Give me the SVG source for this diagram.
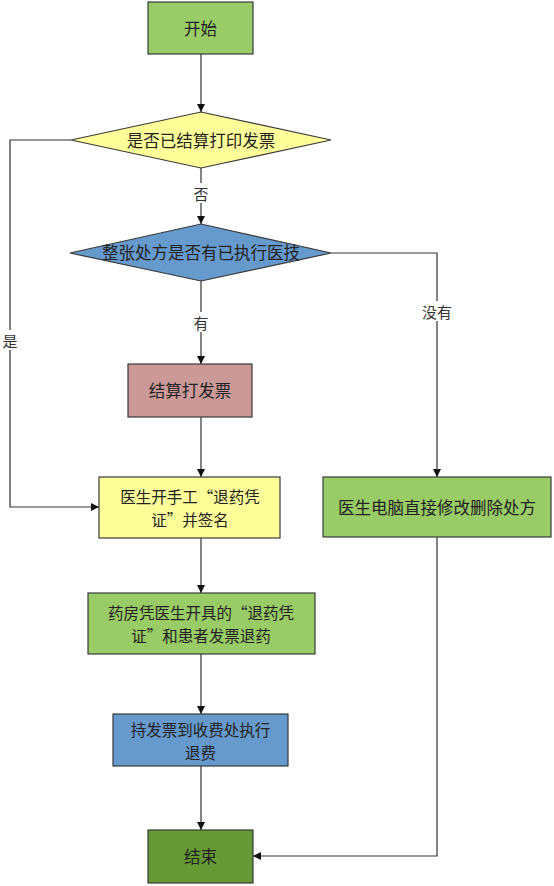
<svg xmlns="http://www.w3.org/2000/svg" width="554" height="886" viewBox="0 0 554 886">
<defs>
<style>
.box{stroke:#3a3a3a;stroke-width:1.2}
.t{font-family:"Noto Sans CJK SC","Liberation Sans",sans-serif;font-size:16.5px;fill:#222;text-anchor:middle;dominant-baseline:central}
.t2{font-family:"Noto Sans CJK SC","Liberation Sans",sans-serif;font-size:15.5px;fill:#222;text-anchor:middle;dominant-baseline:central}
.lbl{font-family:"Noto Sans CJK SC","Liberation Sans",sans-serif;font-size:15px;fill:#333;text-anchor:middle;dominant-baseline:central}
.c{fill:none;stroke:#333;stroke-width:1.2}
</style>
<marker id="ah" viewBox="0 0 10 10" refX="10" refY="5" markerWidth="8" markerHeight="8" markerUnits="userSpaceOnUse" orient="auto">
<path d="M0,0 L10,5 L0,10 z" fill="#111"/>
</marker>
</defs>
<rect width="554" height="886" fill="#fff"/>
<g id="connectors">
<path class="c" d="M201,54 V112" marker-end="url(#ah)"/>
<path class="c" d="M201,168 V224" marker-end="url(#ah)"/>
<path class="c" d="M201,281 V364" marker-end="url(#ah)"/>
<path class="c" d="M201,417 V477" marker-end="url(#ah)"/>
<path class="c" d="M71,140 H10 V507 H99" marker-end="url(#ah)"/>
<path class="c" d="M331,253 H437 V477" marker-end="url(#ah)"/>
<path class="c" d="M201,538 V593" marker-end="url(#ah)"/>
<path class="c" d="M201,654 V714" marker-end="url(#ah)"/>
<path class="c" d="M201,766 V830" marker-end="url(#ah)"/>
<path class="c" d="M437,537 V856 H253" marker-end="url(#ah)"/>
<rect x="191" y="183" width="20" height="20" fill="#fff"/>
<text class="lbl" x="201" y="193">否</text>
<rect x="191" y="312" width="20" height="20" fill="#fff"/>
<text class="lbl" x="201" y="322">有</text>
<rect x="1" y="330" width="18" height="20" fill="#fff"/>
<text class="lbl" x="10" y="340">是</text>
<rect x="420" y="301" width="34" height="20" fill="#fff"/>
<text class="lbl" x="437" y="311">没有</text>
</g>
<g id="start">
<rect class="box" x="148" y="2" width="105" height="52" fill="#99CC66"/>
<text class="t" x="200.5" y="28">开始</text>
</g>
<g id="d1">
<polygon class="box" points="201,112 331,140 201,168 71,140" fill="#FFFF99"/>
<text class="t" x="201" y="140">是否已结算打印发票</text>
</g>
<g id="d2">
<polygon class="box" points="201,224 331,253 201,281 70,253" fill="#6699CC"/>
<text class="t" x="201" y="252">整张处方是否有已执行医技</text>
</g>
<g id="settle">
<rect class="box" x="128" y="364" width="124" height="53" fill="#CC9999"/>
<text class="t" x="190" y="390">结算打发票</text>
</g>
<g id="manual">
<rect class="box" x="99" y="477" width="181" height="61" fill="#FFFF99"/>
<text class="t2"><tspan x="190" y="495.5">医生开手工“退药凭</tspan><tspan x="190" y="519">证”并签名</tspan></text>
</g>
<g id="modify">
<rect class="box" x="323" y="477" width="228" height="60" fill="#99CC66"/>
<text class="t" x="437" y="507">医生电脑直接修改删除处方</text>
</g>
<g id="pharmacy">
<rect class="box" x="88" y="593" width="227" height="61" fill="#99CC66"/>
<text class="t2"><tspan x="201" y="611.5">药房凭医生开具的“退药凭</tspan><tspan x="201" y="635">证”和患者发票退药</tspan></text>
</g>
<g id="refund">
<rect class="box" x="113" y="714" width="175" height="52" fill="#6699CC"/>
<text class="t2"><tspan x="200.5" y="728.5">持发票到收费处执行</tspan><tspan x="200.5" y="752">退费</tspan></text>
</g>
<g id="end">
<rect class="box" x="148" y="830" width="105" height="53" fill="#669933"/>
<text class="t" x="200.5" y="856">结束</text>
</g>
</svg>
